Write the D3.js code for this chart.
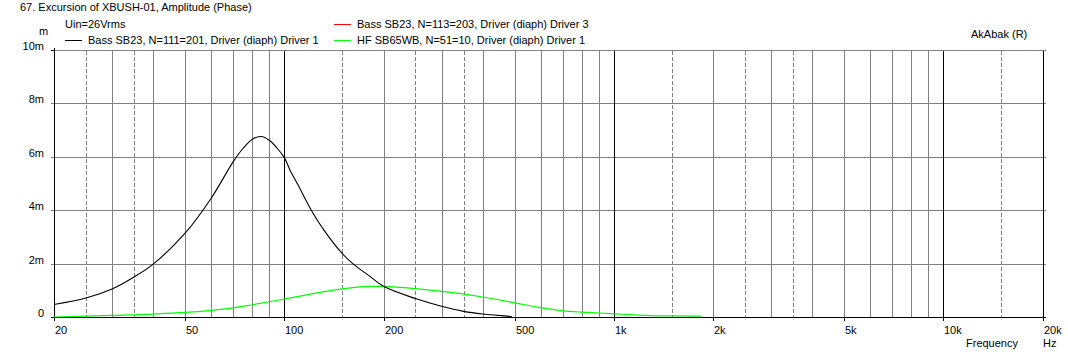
<!DOCTYPE html>
<html>
<head>
<meta charset="utf-8">
<script src="https://cdn.jsdelivr.net/npm/d3@7"></script>
<style>
  html, body { margin: 0; padding: 0; background: #fff; }
  svg { display: block; }
  text { font-family: "Liberation Sans", Arial, sans-serif; font-size: 11px; fill: #000; }
</style>
</head>
<body>
<svg id="chart" width="1068" height="355"></svg>
<script>
// ---- data ----
const blackFreq = [20, 25, 30, 35, 40, 50, 60, 70, 75, 80, 85, 90, 95, 100, 104, 110, 121, 131.6, 150, 162, 182, 200, 250, 300, 350, 400, 490];
const blackVal  = [0.47, 0.71, 1.05, 1.50, 1.98, 3.14, 4.45, 5.82, 6.32, 6.66, 6.76, 6.62, 6.33, 5.97, 5.51, 4.95, 3.98, 3.27, 2.37, 1.98, 1.52, 1.15, 0.69, 0.40, 0.21, 0.11, 0.02];
const greenFreq = [20, 25, 30, 40, 50, 60, 70, 80, 90, 100, 150, 180, 200, 250, 300, 350, 400, 500, 600, 700, 800, 900, 1000, 1150, 1400, 1840];
const greenVal  = [0.0, 0.03, 0.06, 0.11, 0.17, 0.25, 0.34, 0.46, 0.57, 0.67, 1.05, 1.15, 1.15, 1.06, 0.96, 0.86, 0.75, 0.53, 0.35, 0.23, 0.18, 0.15, 0.12, 0.08, 0.04, 0.03];

const yTicks = [0, 2, 4, 6, 8, 10];
const yTickLabels = ["0", "2m", "4m", "6m", "8m", "10m"];
const xTicks = [20, 50, 100, 200, 500, 1000, 2000, 5000, 10000, 20000];
const xTickLabels = ["20", "50", "100", "200", "500", "1k", "2k", "5k", "10k", "20k"];
const gridSolid = [30, 40, 50, 60, 70, 80, 90, 200, 300, 400, 500, 600, 700, 800, 900, 2000, 3000, 4000, 5000, 6000, 7000, 8000, 9000];
const gridDashed = [25, 35, 150, 250, 350, 1500, 2500, 3500, 15000];
const gridMajor = [100, 1000, 10000];

const titleText = "67. Excursion of XBUSH-01, Amplitude (Phase)";
const legendNames = ["Bass SB23, N=111=201, Driver (diaph) Driver 1", "Bass SB23, N=113=203, Driver (diaph) Driver 3", "HF SB65WB, N=51=10, Driver (diaph) Driver 1"];
const legendColors = ["#000000", "#ff0000", "#00ff00"];

// ---- layout ----
const svg = d3.select("#chart");
const x = d3.scaleLog().domain([20, 20000]).range([54, 1042.5]);
const y = d3.scaleLinear().domain([0, 10]).range([317, 50]);
const px = v => Math.round(x(v)) + 0.5;
const py = v => Math.round(y(v)) + 0.5;
const x0 = px(20), x1 = px(20000), yTop = py(10), yBot = py(0);

const grid = svg.append("g").attr("shape-rendering", "crispEdges");
grid.selectAll("line.h").data(yTicks.filter(v => v > 0)).enter().append("line")
  .attr("x1", x0 - 4).attr("x2", x1 + 2).attr("y1", py).attr("y2", py)
  .attr("stroke", "#808080");
grid.selectAll("line.vs").data(gridSolid).enter().append("line")
  .attr("x1", px).attr("x2", px).attr("y1", yTop).attr("y2", yBot)
  .attr("stroke", "#808080");
grid.selectAll("line.vd").data(gridDashed).enter().append("line")
  .attr("x1", px).attr("x2", px).attr("y1", yTop).attr("y2", yBot)
  .attr("stroke", "#808080").attr("stroke-dasharray", "4,2");
grid.selectAll("line.vm").data(gridMajor).enter().append("line")
  .attr("x1", px).attr("x2", px).attr("y1", yTop).attr("y2", yBot)
  .attr("stroke", "#000");

// axes
const ax = svg.append("g").attr("shape-rendering", "crispEdges");
ax.append("line").attr("x1", x0).attr("x2", x0).attr("y1", yTop - 3).attr("y2", yBot + 3).attr("stroke", "#000");
ax.append("line").attr("x1", x1).attr("x2", x1).attr("y1", yTop).attr("y2", yBot + 3).attr("stroke", "#000");
ax.append("line").attr("x1", x0 - 4).attr("x2", x1 + 2).attr("y1", yBot).attr("y2", yBot).attr("stroke", "#000");
ax.append("line").attr("x1", x0 - 4).attr("x2", x0).attr("y1", yTop).attr("y2", yTop).attr("stroke", "#000");
ax.selectAll("line.xt").data(xTicks).enter().append("line")
  .attr("x1", px).attr("x2", px).attr("y1", yBot).attr("y2", yBot + 3).attr("stroke", "#000");

// tick labels
svg.selectAll("text.yl").data(yTicks).enter().append("text")
  .attr("x", 44).attr("y", v => Math.round(y(v))).attr("text-anchor", "end")
  .text((v, i) => yTickLabels[i]);
svg.selectAll("text.xl").data(xTicks).enter().append("text")
  .attr("x", v => Math.round(x(v)) + 1).attr("y", 334)
  .text((v, i) => xTickLabels[i]);

svg.append("text").attr("x", 39).attr("y", 35).text("m");
svg.append("text").attr("x", 966).attr("y", 347).text("Frequency");
svg.append("text").attr("x", 1043).attr("y", 347).text("Hz");
svg.append("text").attr("x", 20).attr("y", 11).text(titleText);
svg.append("text").attr("x", 65).attr("y", 28).text("Uin=26Vrms");
svg.append("text").attr("x", 971).attr("y", 38).text("AkAbak (R)");

// legend
const legendPos = [[65, 40], [334, 24], [334, 40]];
legendNames.forEach((name, i) => {
  const [lx, ly] = legendPos[i];
  svg.append("line").attr("x1", lx).attr("x2", lx + 17).attr("y1", ly + 0.5).attr("y2", ly + 0.5)
    .attr("stroke", legendColors[i]).attr("shape-rendering", "crispEdges");
  svg.append("text").attr("x", lx + 23).attr("y", ly + 3.5).text(name);
});

// curves
const line = d3.line().x(d => x(d[0])).y(d => y(d[1])).curve(d3.curveMonotoneX);
const greenData = greenFreq.map((f, i) => [f, greenVal[i]]);
const blackData = blackFreq.map((f, i) => [f, blackVal[i]]);
svg.append("path").datum(greenData).attr("d", line).attr("fill", "none").attr("stroke", "#00ff00").attr("stroke-width", 1.2);
svg.append("path").datum(blackData).attr("d", line.curve(d3.curveCatmullRom.alpha(0.5))).attr("fill", "none").attr("stroke", "#000").attr("stroke-width", 1.1);
</script>
</body>
</html>
